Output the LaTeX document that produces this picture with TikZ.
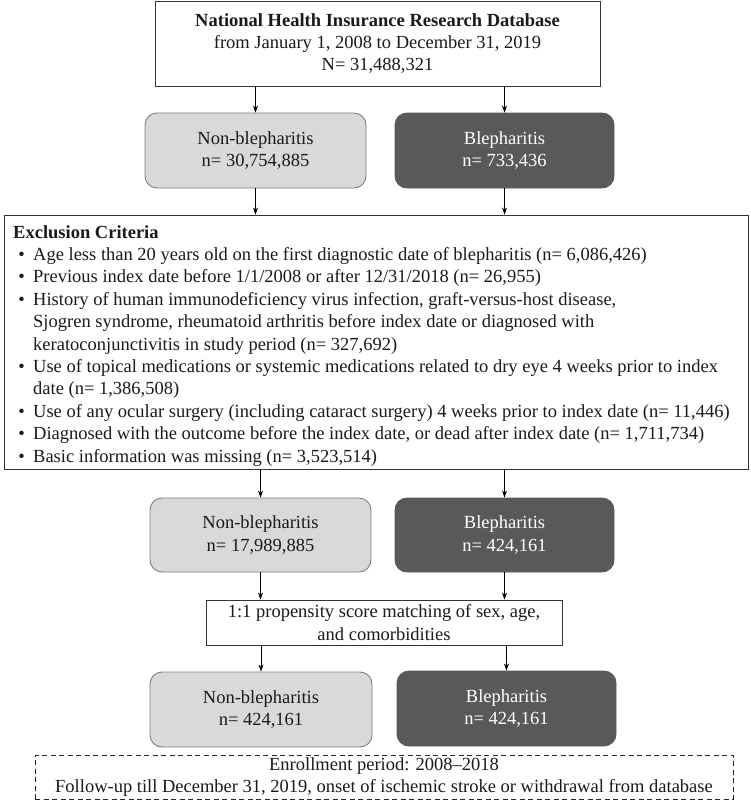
\documentclass[tikz,border=0pt]{standalone}
\usepackage{fontspec}
\setmainfont{Liberation Serif}
\usetikzlibrary{arrows.meta}
\definecolor{lightbox}{HTML}{D9D9D9}
\definecolor{lightedge}{HTML}{7F7F7F}
\definecolor{darkbox}{HTML}{595959}
\definecolor{txt}{HTML}{1A1A1A}
\begin{document}
\begin{tikzpicture}[x=1pt,y=-1pt,
  every node/.style={font=\fontsize{18.5}{22.4}\selectfont, text=txt, inner sep=0pt},
  plainbox/.style={draw=black!80, line width=0.9pt, fill=white, align=center},
  lightrbox/.style={draw=lightedge, line width=0.9pt, fill=lightbox, rounded corners=12pt, align=center, minimum width=220pt, minimum height=75pt},
  darkrbox/.style={draw=darkbox, line width=0.9pt, fill=darkbox, rounded corners=12pt, align=center, text=white, minimum width=219pt, minimum height=75pt},
  arr/.style={draw=black, line width=0.8pt, -{Stealth[length=7pt,width=5pt]}},
  exline/.style={anchor=base west}
]
\useasboundingbox (0,0) rectangle (750,811);

% top box
\node[plainbox, minimum width=445pt, minimum height=85pt] (top) at (377.5,43.5)
  {\textbf{National Health Insurance Research Database}\\from January 1, 2008 to December 31, 2019\\N= 31,488,321};

% first pair
\node[lightrbox, minimum width=221pt] (nb1) at (255.5,150.5) {Non-blepharitis\\n= 30,754,885};
\node[darkrbox] (b1) at (504.5,150.5) {Blepharitis\\n= 733,436};

% exclusion box
\node[draw=black!80, line width=0.9pt, minimum width=744pt, minimum height=254pt] (excl) at (376,342) {};
\node[exline] (e0) at (13,238) {\textbf{Exclusion Criteria}};
\node[exline] (e1) at (10,260.4) {\makebox[23pt][c]{\textbullet}Age less than 20 years old on the first diagnostic date of blepharitis (n= 6,086,426)};
\node[exline] (e2) at (10,282.8) {\makebox[23pt][c]{\textbullet}Previous index date before 1/1/2008 or after 12/31/2018 (n= 26,955)};
\node[exline] (e3) at (10,305.2) {\makebox[23pt][c]{\textbullet}History of human immunodeficiency virus infection, graft-versus-host disease,};
\node[exline] (e4) at (33,327.6) {Sjogren syndrome, rheumatoid arthritis before index date or diagnosed with};
\node[exline] (e5) at (33,350.0) {keratoconjunctivitis in study period (n= 327,692)};
\node[exline] (e6) at (10,372.4) {\makebox[23pt][c]{\textbullet}Use of topical medications or systemic medications related to dry eye 4 weeks prior to index};
\node[exline] (e7) at (33,394.8) {date (n= 1,386,508)};
\node[exline] (e8) at (10,417.2) {\makebox[23pt][c]{\textbullet}Use of any ocular surgery (including cataract surgery) 4 weeks prior to index date (n= 11,446)};
\node[exline] (e9) at (10,439.6) {\makebox[23pt][c]{\textbullet}Diagnosed with the outcome before the index date, or dead after index date (n= 1,711,734)};
\node[exline] (e10) at (10,462.0) {\makebox[23pt][c]{\textbullet}Basic information was missing (n= 3,523,514)};

% second pair
\node[lightrbox, minimum width=221pt, minimum height=74pt] (nb2) at (260.5,535) {Non-blepharitis\\n= 17,989,885};
\node[darkrbox, minimum height=74pt] (b2) at (504.5,535) {Blepharitis\\n= 424,161};

% matching box
\node[plainbox, minimum width=356pt, minimum height=45pt] (psm) at (384,622.5)
  {1:1 propensity score matching of sex, age,\\and comorbidities};

% third pair
\node[lightrbox, minimum width=222pt] (nb3) at (261,709.5) {Non-blepharitis\\n= 424,161};
\node[darkrbox] (b3) at (506.5,708.5) {Blepharitis\\n= 424,161};

% follow-up box
\node[draw=black!85, line width=1pt, dash pattern=on 5pt off 3.5pt, minimum width=698pt, minimum height=44pt, align=center] (fu) at (384,777)
  {Enrollment period: 2008--2018\\Follow-up till December 31, 2019, onset of ischemic stroke or withdrawal from database};

% arrows
\draw[arr] (top.south -| nb1.north) -- (nb1.north);
\draw[arr] (top.south -| b1.north) -- (b1.north);
\draw[arr] (nb1.south) -- (nb1.south |- excl.north);
\draw[arr] (b1.south) -- (b1.south |- excl.north);
\draw[arr] (excl.south -| nb2.north) -- (nb2.north);
\draw[arr] (excl.south -| b2.north) -- (b2.north);
\draw[arr] (nb2.south) -- (nb2.south |- psm.north);
\draw[arr] (b2.south) -- (b2.south |- psm.north);
\draw[arr] (psm.south -| nb3.north) -- (nb3.north);
\draw[arr] (psm.south -| b3.north) -- (b3.north);
\end{tikzpicture}
\end{document}
